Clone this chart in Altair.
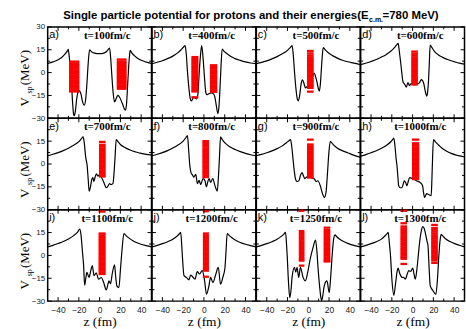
import altair as alt
import pandas as pd

W = 104.5
H = 92
LEFT = 47   # page x of the grid's left edge
TOP = 25    # page y of the grid's top edge

TITLE_MAIN = "Single particle potential for protons and their energies(E"
TITLE_SUB = "c.m."
TITLE_END = "=780 MeV)"

LETTERS = ["a)", "b)", "c)", "d)", "e)", "f)", "g)", "h)", "i)", "j)", "k)", "l)"]
TIMES = ["t=100fm/c", "t=400fm/c", "t=500fm/c", "t=600fm/c",
         "t=700fm/c", "t=800fm/c", "t=900fm/c", "t=1000fm/c",
         "t=1100fm/c", "t=1200fm/c", "t=1250fm/c", "t=1300fm/c"]

X_DOMAIN = [-50, 50]
Y_DOMAIN = [-30, 30]
X_TICKS = [-40, -20, 0, 20, 40]
X_MINOR = [-30, -10, 10, 30]
Y_TICKS = [-30, -15, 0, 15, 30]
Y_LABELS_TOP_ROW = [-30, -15, 0, 15, 30]
Y_LABELS_OTHER_ROWS = [-30, -15, 0, 15]
Y_MINOR = [-22.5, -7.5, 7.5, 22.5]

# ---- potential curves V_sp(z) ----
Z_A = [-50, -45, -40, -36, -33, -31, -30.2, -29.2, -28, -27, -26, -25, -24.3, -23.3, -22, -20.5, -19.5, -18, -16.3, -14.8, -13.5, -12.3, -11.2, -10.2, -9.5, -8, -5, 0, 4, 7, 9.6, 10.6, 11.8, 13, 14.4, 16, 17.6, 19.5, 22, 24, 25, 26, 27, 28, 29, 29.4, 31, 34, 38, 42, 46, 50]
V_A = [6.0, 7.0, 8.4, 10.2, 12.4, 14.3, 15.2, 10, 2, -8, -20, -27.5, -28.3, -25, -17, -12.5, -12, -14, -19.5, -21.4, -18, -8, 4, 12.5, 15, 13.8, 12.8, 12.4, 12.8, 14, 16.1, 10, -2, -13, -19.3, -17, -15, -16.5, -20.5, -24, -24.6, -20, -8, 4, 12.5, 14.6, 13, 10.8, 8.8, 7.6, 6.7, 6.0]

Z_B = [-50, -45, -40, -35, -30, -26, -22, -19.5, -18.1, -17, -15.8, -14.5, -13.2, -12.1, -11, -10, -8.5, -7, -5.8, -4.8, -3.5, -2.2, -1, 0.5, 1.6, 2.6, 4.5, 7, 9, 10.5, 12, 13.4, 14.5, 15.5, 16.5, 17.6, 19, 22, 26, 30, 35, 40, 45, 50]
V_B = [5.8, 6.8, 7.8, 9.2, 10.8, 12.6, 15, 16.8, 17.7, 12, 0, -10, -17, -18.6, -17.5, -16, -16.8, -17.2, -14, -3, 10, 17.7, 11, -3, -12, -14.5, -14, -13.3, -13.8, -16, -22, -26.9, -22, -10, 5, 15.5, 14.3, 12.5, 10.5, 9.2, 8, 7, 6.3, 5.8]

Z_C = [-50, -45, -40, -35, -30, -25, -20, -17, -15.6, -14.5, -13.2, -11.8, -10.5, -9.5, -8.3, -6.8, -5.6, -4.2, -2.7, -1, 1, 3, 5.8, 7, 8.3, 9.5, 10.6, 11.6, 12.6, 13.5, 14.4, 16, 19, 23, 28, 33, 38, 44, 50]
V_C = [5.8, 6.7, 7.7, 9, 10.5, 12.3, 14.6, 16.7, 17.7, 12, 0, -11, -17.5, -18.5, -15, -7, -4.8, -7, -10, -9, -7.5, -5, -0.3, -2.5, -6, -10, -12.2, -8, 2, 11, 16.4, 15.2, 13.2, 11.3, 9.5, 8.1, 7.1, 6.2, 5.2]

Z_D = [-50, -42, -35.6, -30, -26, -22, -18.1, -15.5, -13.9, -12.8, -11.6, -10.4, -9.4, -7.5, -6, -4.5, -3, -1, 2, 4.5, 6.5, 8.4, 10.6, 12.2, 13.7, 14.6, 15.3, 16.1, 16.9, 18.5, 21, 24.9, 29, 34.5, 40, 45, 50]
V_D = [5.2, 6.8, 8.4, 10.2, 11.6, 13.5, 15.9, 18, 19.2, 14, 7.3, 0, -5.7, -7.8, -9.5, -6.5, -8.5, -7, -8, -7.5, -6.8, -4.6, -6.8, -12.2, -15.4, -12, -5.7, 6, 18.1, 16.5, 14, 11.6, 10, 8.4, 7.2, 6.2, 5.5]

Z_E = [-50, -45, -40, -35, -30, -25, -20, -17.5, -15.9, -14.8, -13.5, -12, -11, -10.1, -8.8, -7.5, -6.5, -5.5, -4.3, -3.1, -1.5, 0, 2, 4, 6.5, 8, 9.6, 11, 12.8, 14, 15, 16, 17.5, 20, 25, 30, 35, 40, 45, 50]
V_E = [5.4, 6.4, 7.5, 8.8, 10.4, 12.3, 14.7, 16.6, 17.8, 14, 5, -1.1, -10, -17.8, -15, -10, -9, -11.5, -8.5, -6.4, -8, -7, -9, -12, -15.6, -14.5, -12.9, -13.5, -12.9, -5, 6, 16.1, 14.8, 12.8, 10.6, 9, 7.9, 7, 6.3, 5.8]

Z_F = [-50, -45, -40, -35, -30, -25, -20, -17.5, -15.9, -14.8, -13.6, -12.3, -11.1, -9.8, -7.9, -6.3, -4.7, -3.1, -0.9, 1, 2.3, 3.6, 4.9, 6.5, 8.5, 10.5, 11.8, 12.8, 14, 15, 16, 17.5, 20, 25, 30, 35, 40, 45, 50]
V_F = [5.4, 6.4, 7.5, 8.8, 10.5, 12.5, 15, 17.2, 18.6, 10, -1.1, -6, -7.1, -8.6, -6.8, -12.9, -10.8, -13.5, -9.6, -11, -15, -12, -9.6, -12, -9.5, -14, -16.5, -17.8, -8, 5, 17.8, 16.2, 14, 11.3, 9.5, 8.1, 7, 6.1, 5.4]

Z_G = [-50, -45, -40, -35, -30, -25, -21, -18.5, -17.1, -16, -14.5, -13.2, -12, -10.5, -9.1, -7.5, -6, -4.5, -3.4, -1.5, 0.5, 3, 6.1, 7.5, 9.2, 11.6, 13.5, 15.7, 17.2, 18.6, 19.8, 21.2, 23, 26, 30, 35, 40, 45, 50]
V_G = [5.4, 6.3, 7.4, 8.6, 10.1, 11.9, 14, 15.3, 16, 12, 2, -6, -10.5, -11.5, -11.1, -7.5, -5.7, -8, -9.6, -8.5, -8, -9, -10, -11.5, -11, -14.3, -19, -21.9, -18, -5, 7, 14.9, 13.5, 11.5, 9.6, 8.1, 6.8, 5.5, 4.5]

Z_H = [-50, -45, -40, -35, -30, -25, -21, -19, -18.1, -17, -15.8, -15, -14.2, -13.4, -11.8, -10.2, -7.9, -6.5, -5.4, -4, -2.8, 0, 2.5, 4.2, 7.4, 9.6, 10.6, 11.5, 12.6, 13.7, 15.5, 17.9, 18.6, 19.3, 20.1, 22, 25, 28.1, 32, 37.7, 44, 50]
V_H = [5.2, 6.2, 7.4, 8.7, 10.3, 12.3, 14.6, 16.2, 17, 12, 3, -1.3, -8, -14.3, -15.6, -15.4, -11.1, -12.5, -14.3, -11, -8.9, -9.5, -10.5, -11.1, -12.2, -14.3, -19, -21.9, -20.5, -19.5, -20, -20.8, -10, 5, 16, 14.5, 12.5, 10.5, 8.7, 6.8, 5.5, 4.6]

Z_I = [-50, -45, -40, -35, -30, -25, -21, -19.2, -18, -16.6, -15.4, -14.4, -13.3, -12.2, -10.2, -8.5, -7, -5.4, -3.2, -1, 1.6, 4, 6.4, 8, 9, 10.5, 12.2, 14.4, 15.5, 16.6, 18.6, 20, 21.5, 23.4, 25, 28, 32, 36, 40, 45, 50]
V_I = [5.6, 6.6, 7.8, 9.1, 10.8, 13, 15.5, 17.3, 14, 3, -6.7, -19.6, -15, -11.1, -14.4, -10, -6.7, -13.3, -11.5, -15.6, -14.5, -18, -22.7, -19, -16.7, -18.5, -12, -6.2, -14, -20, -21.1, -10, 3, 14.4, 13.3, 11.5, 9.6, 8.3, 7.3, 6.4, 5.6]

Z_J = [-50, -45, -40, -35, -30, -26, -23.5, -22.4, -21.5, -20.8, -19.2, -17, -14.4, -12.8, -11.2, -8.6, -6.4, -4.2, -1.6, 0.5, 2.5, 4.8, 6.4, 8.6, 11.2, 13.8, 16, 18.2, 20.2, 21.3, 22.4, 24, 27, 31, 35, 40, 45, 50]
V_J = [5.6, 6.6, 7.7, 9, 10.6, 12.6, 14.3, 15.1, 8, 0, -13.3, -14.4, -16, -12.9, -13.8, -15.6, -10.7, -12.2, -10, -16, -25.5, -20, -14.4, -17.8, -12.9, -7.8, -18.9, -14.4, -8.4, 3, 14.4, 13.3, 11.6, 9.8, 8.5, 7.3, 6.4, 5.6]

Z_K = [-50, -45, -40, -35, -30, -26, -23.5, -21.9, -21, -20.3, -19, -17.8, -16.5, -15.6, -13.3, -12, -10.8, -9.2, -7.6, -5, -2.8, -0.5, 2, 4.5, 7, 8.4, 9.6, 10.9, 12, 13, 14.3, 15.4, 18, 20.2, 21.5, 23, 24.5, 25.8, 27, 30, 34, 38, 44, 50]
V_K = [5.6, 6.6, 7.7, 9, 10.6, 12.5, 14, 15.1, 8, 0, -18, -27.8, -22, -14.4, -7.8, -11, -7.8, -14.4, -7.8, -14.4, -16.7, -11, -2, 5, 10, 2, -10, -20, -27, -29.6, -25, -20, -16.7, -24.4, -15, 0, 11, 13.5, 12.6, 10.8, 9.1, 7.9, 6.6, 5.6]

Z_L = [-50, -45, -40, -35, -30, -26.5, -24.5, -23.5, -22.5, -21.3, -19.8, -18.1, -16.5, -15, -14, -12.3, -10.1, -8.5, -6.9, -5.3, -3.7, -1.8, 0.1, 1.3, 2.6, 4, 5.5, 7, 8.5, 9.6, 11, 12.5, 14, 14.8, 15.9, 17, 19.5, 22.4, 24, 25.3, 26.5, 27.5, 29, 32, 36, 40, 45, 50]
V_L = [5.6, 6.6, 7.7, 9, 10.7, 12.9, 14.3, 15.1, 9, 0, -17, -26.2, -19, -11, -8.4, -12, -14.4, -14.5, -15.6, -12.5, -10, -10.5, -8.4, -12, -15.6, -10, 0, 10, 16.5, 18.9, 18, 14, 9, 6.7, -8, -20, -23, -25.6, -15, 0, 10, 13.8, 12.8, 10.8, 9.1, 7.9, 6.7, 5.6]

CURVES = [(Z_A, V_A), (Z_B, V_B), (Z_C, V_C), (Z_D, V_D), (Z_E, V_E), (Z_F, V_F),
          (Z_G, V_G), (Z_H, V_H), (Z_I, V_I), (Z_J, V_J), (Z_K, V_K), (Z_L, V_L)]

# ---- single particle energies (MeV) ----
LEV_A1 = [7.2, 6.0, 5.0, 3.8, 2.6, 1.5, 0.4, -0.7, -1.8, -2.9, -4.0, -5.1, -6.2, -7.3, -8.4, -9.5, -10.6, -11.7, -12.4]
LEV_A2 = [8.6, 7.3, 6.2, 5.0, 3.8, 2.7, 1.6, 0.5, -0.6, -1.7, -2.8, -3.9, -5.0, -6.1, -7.2, -8.3, -9.4, -10.6]
LEV_B1 = [10.2, 9.0, 8.0, 6.9, 5.8, 4.7, 3.6, 2.5, 1.4, 0.3, -0.8, -1.9, -3.0, -4.1, -5.2, -6.3, -7.4, -8.5, -9.6, -10.7, -11.8, -12.4, -16.2]
LEV_B2 = [4.8, 3.7, 2.6, 1.5, 0.4, -0.7, -1.8, -2.9, -4.0, -5.1, -6.2, -7.3, -8.4, -9.5, -10.6, -11.7, -12.6]
LEV_C = [14.2, 12.6, 11.2, 10.0, 8.8, 7.7, 6.6, 5.5, 4.4, 3.3, 2.2, 1.1, 0.0, -1.1, -2.2, -3.3, -4.4, -5.5, -6.6, -7.7, -8.8, -10.0, -12.5]
LEV_D = [13.8, 12.4, 11.2, 10.0, 8.8, 7.7, 6.6, 5.5, 4.4, 3.3, 2.2, 1.1, 0.0, -1.1, -2.2, -3.3, -4.4, -5.5, -6.6, -7.8]
LEV_E = [14.5, 12.6, 11.4, 10.2, 9.1, 8.0, 6.9, 5.8, 4.7, 3.6, 2.5, 1.4, 0.3, -0.8, -1.9, -3.0, -4.1, -5.2, -6.3, -7.4, -8.2]
LEV_F = [15.0, 13.8, 12.6, 11.4, 10.2, 9.1, 8.0, 6.9, 5.8, 4.7, 3.6, 2.5, 1.4, 0.3, -0.8, -1.9, -3.0, -4.1, -5.2, -6.3, -7.4, -8.6]
LEV_G = [16.0, 12.8, 11.6, 10.5, 9.4, 8.3, 7.2, 6.1, 5.0, 3.9, 2.8, 1.7, 0.6, -0.5, -1.6, -2.7, -3.8, -4.9, -6.0, -7.1, -8.2, -8.9]
LEV_H = [16.0, 13.6, 12.4, 11.0, 9.9, 8.8, 7.7, 6.6, 5.5, 4.4, 3.3, 2.2, 1.1, 0.0, -1.1, -2.2, -3.3, -4.4, -5.5, -6.6, -7.7, -8.8, -9.9]
LEV_I = [28.8, 14.4, 13.2, 12.0, 10.9, 9.8, 8.7, 7.6, 6.5, 5.4, 4.3, 3.2, 2.1, 1.0, -0.1, -1.2, -2.3, -3.4, -4.5, -5.6, -6.7, -7.8, -8.9, -10.0, -11.1, -12.2]
LEV_J = [29.0, 14.4, 13.2, 12.0, 10.9, 9.8, 8.7, 7.6, 6.5, 5.4, 4.3, 3.2, 2.1, 1.0, -0.1, -1.2, -2.3, -3.4, -4.5, -5.6, -6.7, -7.8, -8.9, -10.0, -14.0]
LEV_K1 = [29.3, 16.0, 14.8, 13.6, 12.5, 11.4, 10.3, 9.2, 8.1, 7.0, 5.9, 4.8, 3.7, 2.6, 1.5, 0.4, -0.7, -1.8, -2.9, -3.4, -6.7]
LEV_K2 = [18.2, 16.6, 15.4, 14.2, 13.0, 11.9, 10.8, 9.7, 8.6, 7.5, 6.4, 5.3, 4.2, 3.1, 2.0, 0.9, -0.2, -1.3, -2.4, -3.5, -4.0]
LEV_L1 = [29.3, 21.1, 19.0, 17.8, 16.6, 15.4, 14.2, 13.0, 11.9, 10.8, 9.7, 8.6, 7.5, 6.4, 5.3, 4.2, 3.1, 2.0, 0.9, -0.2, -1.3, -2.2, -5.6]
LEV_L2 = [20.0, 18.0, 16.8, 15.6, 14.4, 13.2, 12.1, 11.0, 9.9, 8.8, 7.7, 6.6, 5.5, 4.4, 3.3, 2.2, 1.1, 0.0, -1.1, -2.2, -3.3, -4.9]

# (panel, z from, z to, energies)
BLOCKS = [
    (0, -29.5, -19.5, LEV_A1), (0, 16.5, 26.0, LEV_A2),
    (1, -12.1, -5.4, LEV_B1), (1, 5.8, 12.8, LEV_B2),
    (2, -1.2, 5.2, LEV_C), (3, -1.3, 5.1, LEV_D),
    (4, -0.6, 5.8, LEV_E), (5, -1.5, 4.9, LEV_F),
    (6, -1.2, 5.2, LEV_G), (7, -0.6, 6.4, LEV_H),
    (8, -1.0, 5.8, LEV_I), (9, -1.0, 4.8, LEV_J),
    (10, -9.1, -3.7, LEV_K1), (10, 14.8, 21.2, LEV_K2),
    (11, -11.7, -5.4, LEV_L1), (11, 17.9, 24.3, LEV_L2),
]

lev_rows = []
for p, z1, z2, levs in BLOCKS:
    for e in levs:
        lev_rows.append({"panel": p, "z": z1, "z2": z2, "V": e})
lev_df = pd.DataFrame(lev_rows)

XS = alt.Scale(domain=X_DOMAIN, nice=False, zero=False)
YS = alt.Scale(domain=Y_DOMAIN, nice=False, zero=False)

ONE = pd.DataFrame({"k": [0]})


def txt(text, x, y, **kw):
    return alt.Chart(ONE).mark_text(text=text, color="black", **kw).encode(
        x=alt.value(x), y=alt.value(y))


def panel(i):
    row, col = divmod(i, 4)
    if row == 2:
        xaxis = alt.Axis(values=X_TICKS, ticks=False, domain=False, grid=False,
                         labelFont="Liberation Sans", labelFontSize=8.5, labelColor="#222",
                         labelPadding=4, labelFlush=False,
                         title="z (fm)", titleFont="Liberation Serif", titleFontSize=13.5,
                         titleFontWeight="normal", titleColor="black", titlePadding=1)
    else:
        xaxis = None
    if col == 0:
        yaxis = alt.Axis(values=Y_LABELS_TOP_ROW if row == 0 else Y_LABELS_OTHER_ROWS,
                         ticks=False, domain=False, grid=False,
                         labelFont="Liberation Sans", labelFontSize=8, labelColor="#222",
                         labelPadding=3, labelFlush=False, title=None)
    else:
        yaxis = None

    def X(f):
        return alt.X(f"{f}:Q", scale=XS, axis=xaxis)

    def Y(f):
        return alt.Y(f"{f}:Q", scale=YS, axis=yaxis)

    zc, vc = CURVES[i]
    cdf = pd.DataFrame({"z": zc, "V": vc})
    layers = []
    layers.append(alt.Chart(cdf).mark_line(color="black", strokeWidth=1.2,
                                           interpolate="monotone", clip=True)
                  .encode(x=X("z"), y=Y("V")))
    layers.append(alt.Chart(lev_df[lev_df.panel == i]).mark_rule(color="#ff0000", strokeWidth=2.3)
                  .encode(x=X("z"), x2="z2:Q", y=Y("V")))
    # inward ticks on all four sides
    xmaj = pd.DataFrame({"z": X_TICKS})
    xmin = pd.DataFrame({"z": X_MINOR})
    ymaj = pd.DataFrame({"V": Y_TICKS})
    ymin = pd.DataFrame({"V": Y_MINOR})
    for d, ln in ((xmaj, 4), (xmin, 2.5)):
        layers.append(alt.Chart(d).mark_rule(color="black", strokeWidth=1)
                      .encode(x=X("z"), y=alt.value(H), y2=alt.value(H - ln)))
        layers.append(alt.Chart(d).mark_rule(color="black", strokeWidth=1)
                      .encode(x=X("z"), y=alt.value(0), y2=alt.value(ln)))
    for d, ln in ((ymaj, 4), (ymin, 2.5)):
        layers.append(alt.Chart(d).mark_rule(color="black", strokeWidth=1)
                      .encode(y=Y("V"), x=alt.value(0), x2=alt.value(ln)))
        layers.append(alt.Chart(d).mark_rule(color="black", strokeWidth=1)
                      .encode(y=Y("V"), x=alt.value(W), x2=alt.value(W - ln)))
    layers.append(txt(LETTERS[i], 1.5, 11.5, align="left", baseline="alphabetic",
                      font="Liberation Sans", fontSize=11))
    layers.append(txt(TIMES[i], 60, 12, align="center", baseline="alphabetic",
                      font="Liberation Serif", fontSize=11, fontWeight="bold"))
    if col == 0:
        ytxt = dict(font="Liberation Serif", angle=270, align="center", baseline="middle")
        layers.append(txt("V", -22.7, 75.5, fontSize=13, **ytxt))
        layers.append(txt("(MeV)", -22.7, 41, fontSize=13, **ytxt))
        layers.append(txt("sp", -17.7, 63.5, fontSize=8, **ytxt))
    if i == 0:
        # figure title (drawn from the first panel, outside its plot area)
        layers.append(txt(TITLE_MAIN, 370 - LEFT, 17 - TOP, align="right", baseline="alphabetic",
                          font="Liberation Sans", fontSize=11.5, fontWeight="bold"))
        layers.append(txt(TITLE_SUB, 370.5 - LEFT, 20.5 - TOP, align="left", baseline="alphabetic",
                          font="Liberation Sans", fontSize=7, fontWeight="bold"))
        layers.append(txt(TITLE_END, 384 - LEFT, 17 - TOP, align="left", baseline="alphabetic",
                          font="Liberation Sans", fontSize=11.5, fontWeight="bold"))
        # invisible anchor fixing the page's top-left corner
        layers.append(alt.Chart(ONE).mark_rule(strokeWidth=0.5, strokeOpacity=0, color="white")
                      .encode(x=alt.value(-LEFT + 0.25), x2=alt.value(-LEFT + 1),
                              y=alt.value(-TOP + 0.25)))
    return alt.layer(*layers).properties(width=W, height=H)


panels = [panel(i) for i in range(12)]

chart = alt.concat(*panels, columns=4, spacing=0, bounds="flush").properties(
    padding={"left": 0, "top": 0, "right": 0, "bottom": 0}
).configure_view(stroke="black", strokeWidth=1.5)

chart.save("out.html", embed_options={"renderer": "svg", "actions": False})
